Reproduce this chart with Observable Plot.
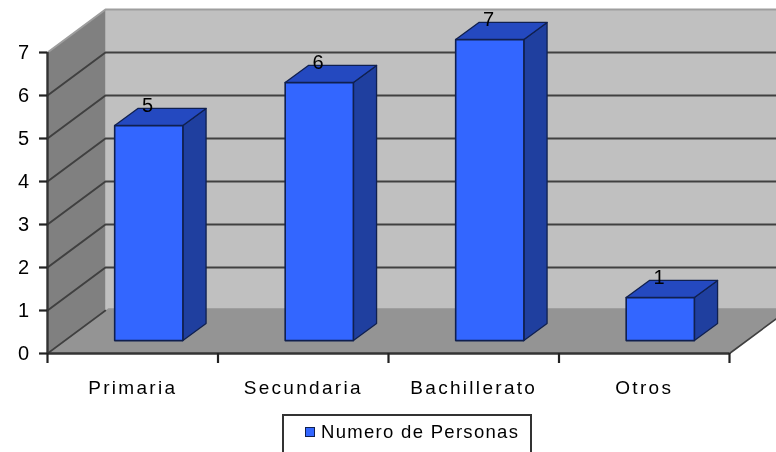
<!DOCTYPE html>
<html>
<head>
<meta charset="utf-8">
<script src="https://cdn.jsdelivr.net/npm/d3@7"></script>
<script src="https://cdn.jsdelivr.net/npm/@observablehq/plot@0.6"></script>
<style>
  html, body { margin: 0; padding: 0; background: #fff; overflow: hidden; width: 776px; height: 452px; }
  svg { filter: blur(0.7px); overflow: hidden; }
  #legend {
    position: absolute; left: 282px; top: 414px; width: 246px; height: 50px;
    border: 2px solid #333; box-sizing: content-box; filter: blur(0.7px);
    font: 18.5px "Liberation Sans", Arial, sans-serif; letter-spacing: 1.3px; color: #000;
  }
  #legend i { position: absolute; left: 21px; top: 11px; width: 8px; height: 8px; background: #3366ff; border: 1.5px solid #10204f; }
  #legend span { position: absolute; left: 37px; top: 5px; white-space: nowrap; }
</style>
</head>
<body>
<div id="chart"></div>
<div id="legend"><i></i><span>Numero de Personas</span></div>
<script>
const categories = ["Primaria", "Secundaria", "Bachillerato", "Otros"];
const personas = [5, 6, 7, 1];
const yTicks = [0, 1, 2, 3, 4, 5, 6, 7];
const xEdges = [0, 1, 2, 3, 4];

// oblique projection, expressed in data units
const skewX = 0.34, skewY = 1;      // full floor depth
const floorBack = 1.05;
const barStart = 0.394, barWidth = 0.4;
const barLift = 0.3, barDepth = 0.4; // in skewY units
const yMax = 7;

const poly = (id, pts) => [...pts, pts[0]].map(([x, y]) => ({id, x, y}));

const backWall = poly("back", [[skewX, skewY], [4 + skewX, skewY], [4 + skewX, yMax + skewY], [skewX, yMax + skewY]]);
const sideWall = poly("side", [[0, 0], [skewX, skewY], [skewX, yMax + skewY], [0, yMax]]);
const floor = poly("floor", [[0, 0], [4, 0], [4 + skewX * floorBack, floorBack], [skewX * floorBack, floorBack]]);

const gridLines = yTicks.slice(1, -1).flatMap(n => [
  {id: n, x: 0, y: n}, {id: n, x: skewX, y: n + skewY}, {id: n, x: 4 + skewX, y: n + skewY}
]);
const floorEdges = [
  {id: "l", x: 0, y: 0}, {id: "l", x: skewX, y: skewY},
  {id: "r", x: 4, y: 0}, {id: "r", x: 4 + skewX, y: skewY}
];
const topEdge = [
  {x: 0, y: yMax}, {x: skewX, y: yMax + skewY}, {x: 4 + skewX, y: yMax + skewY}
];

const d = barDepth * skewX, e = barDepth * skewY;
const fronts = [], tops = [], sides = [];
personas.forEach((v, i) => {
  const a = i + barStart, b = a + barWidth, lo = barLift, hi = v + barLift;
  fronts.push(...poly("f" + i, [[a, lo], [b, lo], [b, hi], [a, hi]]));
  tops.push(...poly("t" + i, [[a, hi], [b, hi], [b + d, hi + e], [a + d, hi + e]]));
  sides.push(...poly("s" + i, [[b, lo], [b + d, lo + e], [b + d, hi + e], [b, hi]]));
});
const labels = personas.map((v, i) => ({x: i + barStart + barWidth / 2, y: v, v}));

const outline = "#10204f";
const plot = Plot.plot({
  width: 776, height: 408,
  marginLeft: 47, marginRight: 47, marginTop: 52, marginBottom: 55,
  x: {domain: [0, 4], label: null},
  y: {domain: [0, 7], label: null},
  style: {fontFamily: '"Liberation Sans", Arial, sans-serif', fontSize: "19px", letterSpacing: "2.3px", color: "#000"},
  marks: [
    Plot.line(backWall, {x: "x", y: "y", z: "id", fill: "#c0c0c0"}),
    Plot.line(sideWall, {x: "x", y: "y", z: "id", fill: "#808080"}),
    Plot.line(floor, {x: "x", y: "y", z: "id", fill: "#949494"}),
    Plot.line(gridLines, {x: "x", y: "y", z: "id", stroke: "#404040", strokeWidth: 2, curve: "linear"}),
    Plot.line(topEdge, {x: "x", y: "y", stroke: "#9e9e9e", strokeWidth: 2}),
    Plot.line(floorEdges, {x: "x", y: "y", z: "id", stroke: "#404040", strokeWidth: 1.6}),
    Plot.line(sides, {x: "x", y: "y", z: "id", fill: "#1f3f9f", stroke: outline, strokeWidth: 1.3}),
    Plot.line(tops, {x: "x", y: "y", z: "id", fill: "#2449c0", stroke: outline, strokeWidth: 1.3}),
    Plot.line(fronts, {x: "x", y: "y", z: "id", fill: "#3366ff", stroke: outline, strokeWidth: 1.6}),
    Plot.ruleY([0], {stroke: "#333", strokeWidth: 2.4}),
    Plot.ruleX([0], {stroke: "#333", strokeWidth: 2.4}),
    Plot.axisY({ticks: yTicks, tickSize: 8, tickPadding: 8, stroke: "#222", fill: "#000", strokeWidth: 2.2, fontSize: 20, label: null, tickFormat: d3.format("d")}),
    Plot.axisX({ticks: xEdges, tickSize: 10, stroke: "#222", strokeWidth: 2.2, tickFormat: () => "", label: null}),
    Plot.axisX({ticks: categories.map((c, i) => i + 0.5), tickSize: 0, tickPadding: 27, fontSize: 19, fill: "#000",
      tickFormat: t => categories[t - 0.5], label: null}),
    Plot.text(labels, {x: "x", y: "y", text: "v", dy: -33, fontSize: 20, fill: "#000"})
  ]
});
document.getElementById("chart").append(plot);
</script>
</body>
</html>
